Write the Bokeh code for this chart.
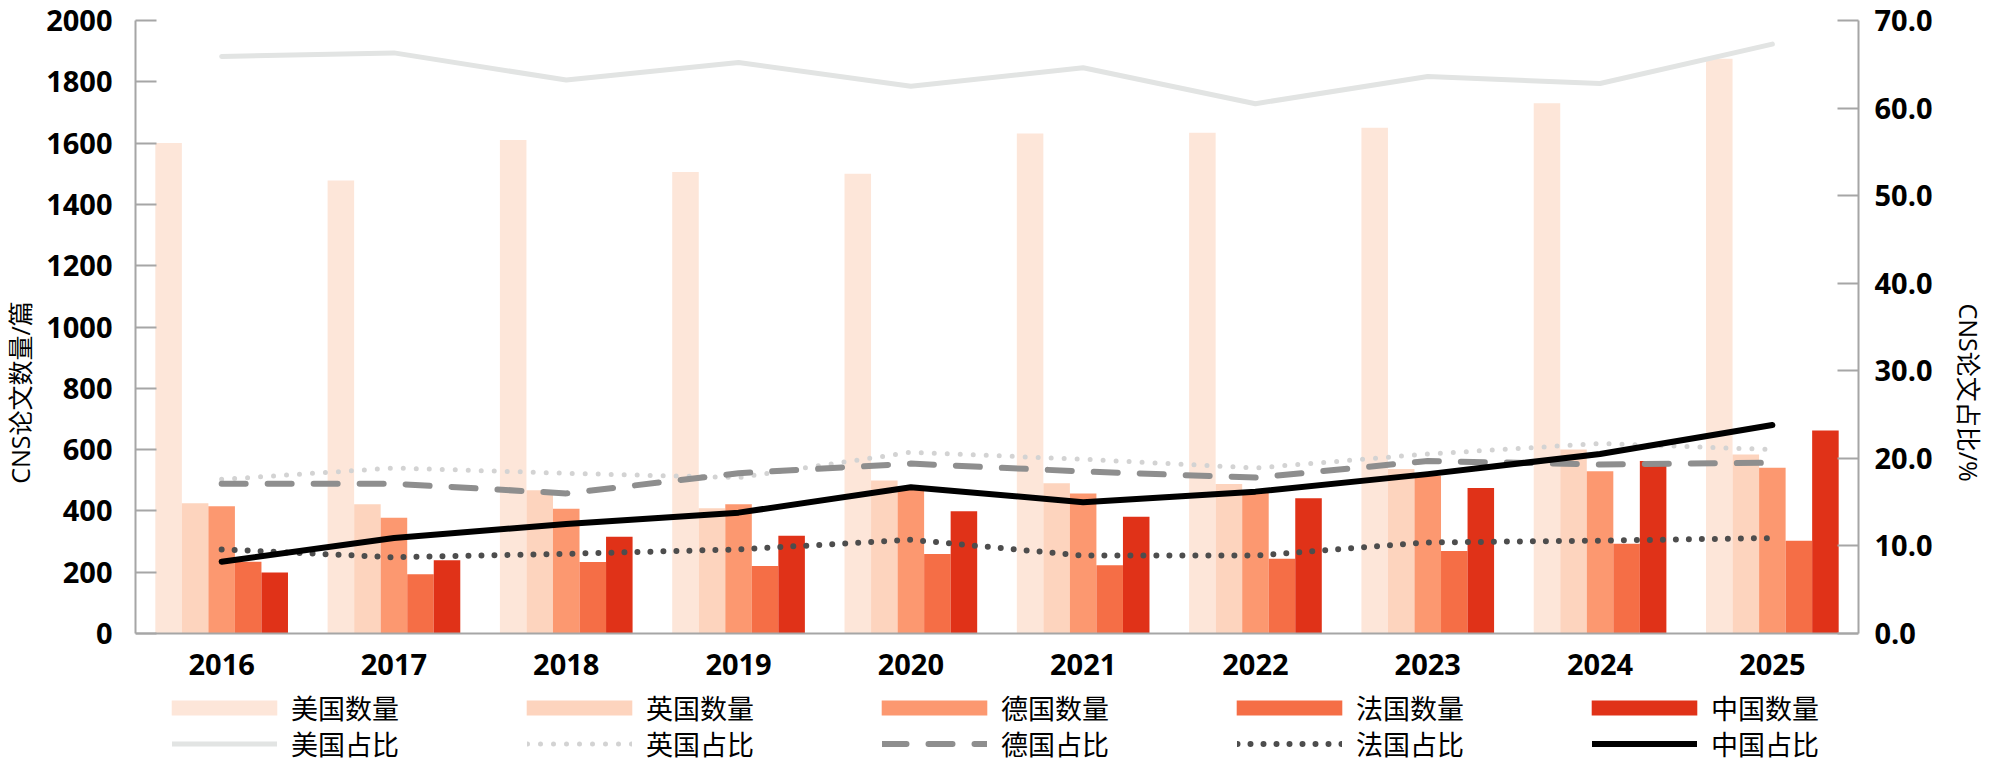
from bokeh.plotting import figure
from bokeh.models import (FactorRange, Range1d, LinearAxis, FixedTicker,
                          NumeralTickFormatter, Legend, LegendItem, ColumnDataSource)
from bokeh.transform import dodge
from bokeh.embed import file_html
from bokeh.resources import INLINE

years = ["2016", "2017", "2018", "2019", "2020", "2021", "2022", "2023", "2024", "2025"]

us_count = [1600, 1478, 1610, 1506, 1500, 1631, 1634, 1650, 1730, 1875]
uk_count = [425, 422, 467, 409, 499, 490, 488, 537, 600, 584]
de_count = [415, 378, 407, 422, 475, 457, 460, 515, 529, 541]
fr_count = [234, 193, 233, 220, 259, 223, 244, 269, 293, 303]
cn_count = [199, 239, 316, 319, 399, 381, 441, 475, 563, 662]

us_share = [65.9, 66.3, 63.2, 65.2, 62.5, 64.6, 60.5, 63.6, 62.8, 67.3]
uk_share = [17.6, 18.9, 18.3, 17.8, 20.7, 19.9, 18.9, 20.5, 21.7, 21.0]
de_share = [17.1, 17.1, 16.0, 18.3, 19.4, 18.5, 17.8, 19.7, 19.3, 19.5]
fr_share = [9.6, 8.7, 9.1, 9.6, 10.7, 8.9, 8.9, 10.4, 10.6, 10.9]
cn_share = [8.2, 10.9, 12.5, 13.8, 16.7, 15.0, 16.2, 18.2, 20.5, 23.8]

count_max = 2000
share_max = 70
count_ticks = [0, 200, 400, 600, 800, 1000, 1200, 1400, 1600, 1800, 2000]
share_ticks = [0, 10, 20, 30, 40, 50, 60, 70]

count_labels = ["美国数量", "英国数量", "德国数量", "法国数量", "中国数量"]
share_labels = ["美国占比", "英国占比", "德国占比", "法国占比", "中国占比"]

src = ColumnDataSource(dict(year=years, us=us_count, uk=uk_count, de=de_count,
                            fr=fr_count, cn=cn_count, us_s=us_share, uk_s=uk_share,
                            de_s=de_share, fr_s=fr_share, cn_s=cn_share))

AX = "#A6A6A6"
NUM_FONT = "Open Sans"
CJK = "Noto Sans CJK SC"

# layout (screen pixels inside the figure)
W, H = 1988, 766
TOP, BOTTOM_BORDER = 20, 2
ZERO_PX = 633                      # where value 0 sits
frame_bottom = H - BOTTOM_BORDER
extra = (frame_bottom - ZERO_PX) / (ZERO_PX - TOP)   # space below zero, in range units

p = figure(x_range=FactorRange(*years, range_padding=0),
           y_range=Range1d(-count_max * extra, count_max),
           width=W, height=H, output_backend="svg", toolbar_location=None,
           min_border_left=130, min_border_right=124, min_border_top=TOP,
           min_border_bottom=BOTTOM_BORDER)
p.extra_y_ranges = {"pct": Range1d(-share_max * extra, share_max)}
p.xgrid.visible = False
p.ygrid.visible = False
p.outline_line_color = None
p.background_fill_color = "white"

# axes
xa = p.xaxis[0]
xa.fixed_location = 0
xa.axis_line_color = AX
xa.axis_line_width = 2
xa.major_tick_line_color = None
xa.minor_tick_line_color = None
xa.major_label_text_font = NUM_FONT
xa.major_label_text_font_style = "bold"
xa.major_label_text_font_size = "29px"
xa.major_label_text_color = "black"
xa.major_label_standoff = 14

ya = p.yaxis[0]
ya.ticker = FixedTicker(ticks=count_ticks)
ya.bounds = (0, count_max)
ya.axis_line_color = AX
ya.axis_line_width = 2
ya.major_tick_line_color = AX
ya.major_tick_line_width = 2
ya.major_tick_in = 21
ya.major_tick_out = 0
ya.minor_tick_line_color = None
ya.major_label_text_font = NUM_FONT
ya.major_label_text_font_style = "bold"
ya.major_label_text_font_size = "29px"
ya.major_label_text_color = "black"
ya.major_label_standoff = 23
ya.axis_label = "CNS论文数量/篇"
ya.axis_label_text_font = "Open Sans, Noto Sans CJK SC"
ya.axis_label_text_font_style = "normal"
ya.axis_label_text_font_size = "25px"
ya.axis_label_text_color = "black"
ya.axis_label_standoff = 6

ra = LinearAxis(y_range_name="pct", ticker=FixedTicker(ticks=share_ticks),
                formatter=NumeralTickFormatter(format="0.0"), bounds=(0, share_max))
ra.axis_line_color = AX
ra.axis_line_width = 2
ra.major_tick_line_color = AX
ra.major_tick_line_width = 2
ra.major_tick_in = 21
ra.major_tick_out = 0
ra.minor_tick_line_color = None
ra.major_label_text_font = NUM_FONT
ra.major_label_text_font_style = "bold"
ra.major_label_text_font_size = "29px"
ra.major_label_text_color = "black"
ra.major_label_standoff = 16
ra.axis_label = "CNS论文占比/%"
ra.axis_label_text_font = "Open Sans, Noto Sans CJK SC"
ra.axis_label_text_font_style = "normal"
ra.axis_label_text_font_size = "25px"
ra.axis_label_text_color = "black"
ra.axis_label_standoff = 16
p.add_layout(ra, "right")

# bars
bw = 0.154
bar_cols = ["us", "uk", "de", "fr", "cn"]
bar_colors = ["#FDE6D9", "#FDD4BE", "#FC9870", "#F56E46", "#E03218"]
offsets = [-2 * bw, -bw, 0.0, bw, 2 * bw]
bar_r = []
for col, c, off in zip(bar_cols, bar_colors, offsets):
    r = p.vbar(x=dodge("year", off, range=p.x_range), top=col, width=bw,
               source=src, fill_color=c, line_color=None)
    bar_r.append(r)

# share lines
line_specs = [
    ("us_s", "#E2E4E3", 5, "solid"),
    ("uk_s", "#D3D3D3", 5, "0 13"),
    ("de_s", "#8E8E8E", 6, "24 22"),
    ("fr_s", "#4D4D4D", 6, "0 13"),
    ("cn_s", "#000000", 6, "solid"),
]
line_r = []
for col, c, w, dash in line_specs:
    r = p.line(x="year", y=col, source=src, y_range_name="pct", line_color=c,
               line_width=w, line_dash=dash, line_cap="round", line_join="round")
    line_r.append(r)

# legends (screen offsets from frame bottom-left)
h1, h2 = 46, 28
row1_c, row2_c = 707, 749
leg1 = Legend(items=[LegendItem(label=l, renderers=[r]) for l, r in zip(count_labels, bar_r)],
              orientation="horizontal",
              location=(23, frame_bottom - h1 - (row1_c - h1 // 2)),
              glyph_width=132, glyph_height=19, label_standoff=1,
              label_width=136, label_height=h1, spacing=86, padding=0, margin=0,
              border_line_color=None, background_fill_alpha=0,
              label_text_font=CJK, label_text_font_size="27px",
              label_text_color="black")
leg2 = Legend(items=[LegendItem(label=l, renderers=[r]) for l, r in zip(share_labels, line_r)],
              orientation="horizontal",
              location=(37, frame_bottom - h2 - (row2_c - h2 // 2)),
              glyph_width=105, glyph_height=19, label_standoff=14,
              label_width=121, label_height=h2, spacing=115, padding=0, margin=0,
              border_line_color=None, background_fill_alpha=0,
              label_text_font=CJK, label_text_font_size="27px",
              label_text_color="black")
p.add_layout(leg1, "center")
p.add_layout(leg2, "center")

open("out.html", "w").write(file_html(p, INLINE))
